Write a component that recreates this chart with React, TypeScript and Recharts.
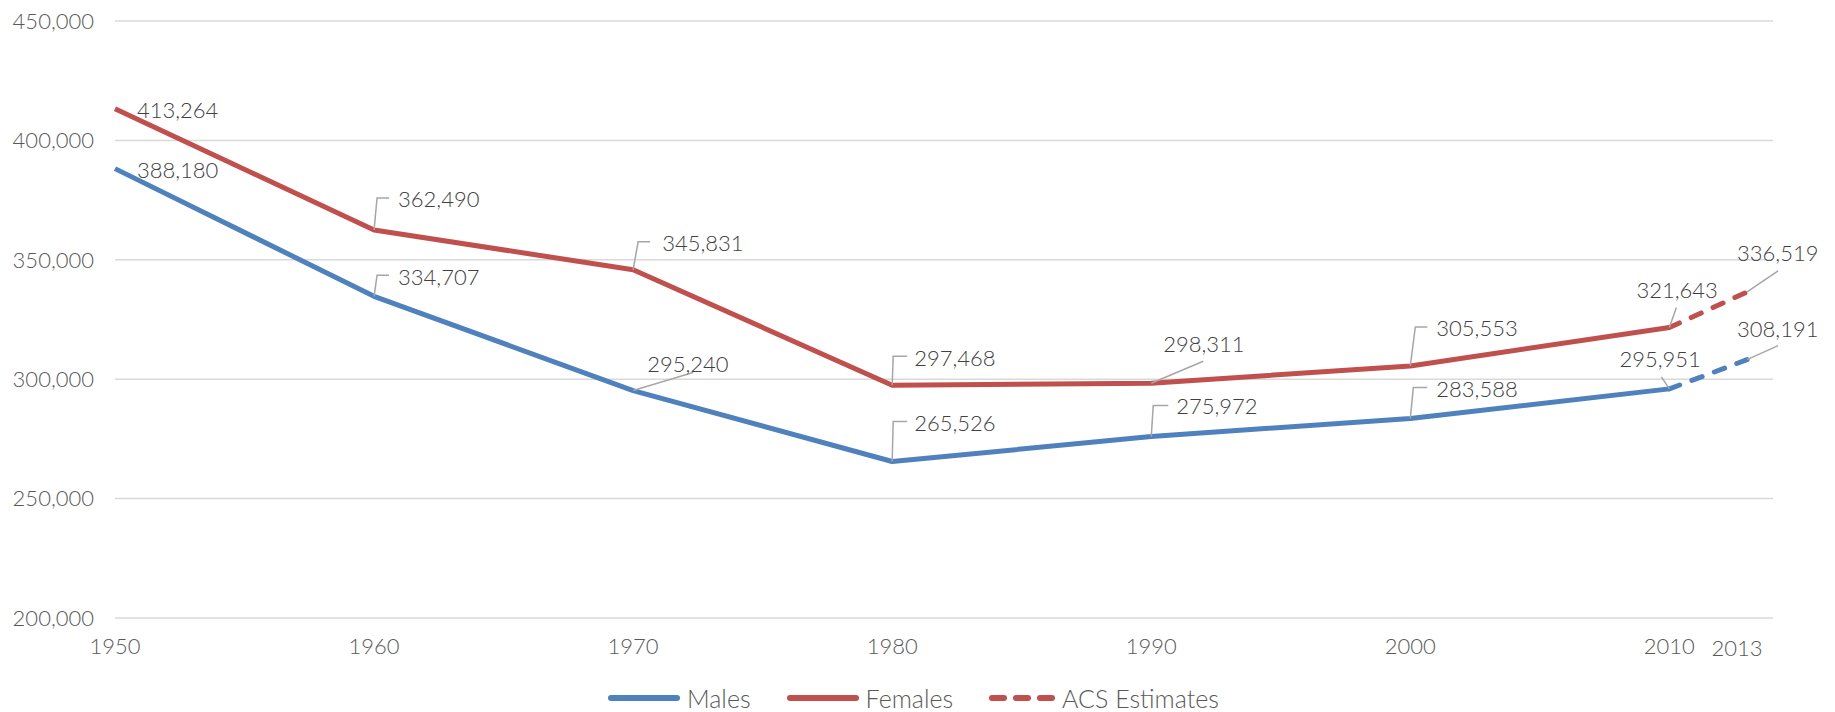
import React from "react";
import { LineChart, Line, XAxis, YAxis, CartesianGrid, Legend, LabelList } from "recharts";

// ---- data ----
const years = [1950, 1960, 1970, 1980, 1990, 2000, 2010, 2013];
const males = [388180, 334707, 295240, 265526, 275972, 283588, 295951, 308191];
const females = [413264, 362490, 345831, 297468, 298311, 305553, 321643, 336519];
const acsYears = [2013]; // estimates from the American Community Survey
const yTicks = [200000, 250000, 300000, 350000, 400000, 450000];
const seriesNames = ["Males", "Females", "ACS Estimates"];

// ---- styling / annotation layout (offsets from the data point, px) ----
type LabelLayout = { dx: number; dy: number; leader?: number[][] };
const femaleLabelLayout: LabelLayout[] = [
  { dx: 22, dy: 1 },
  { dx: 24, dy: -31, leader: [[0, 0], [3, -32], [15, -32]] },
  { dx: 29, dy: -27, leader: [[0, 0], [5, -28], [17, -28]] },
  { dx: 22, dy: -28, leader: [[0, 0], [1, -29], [15, -29]] },
  { dx: 12, dy: -40, leader: [[0, 0], [52, -22]] },
  { dx: 26, dy: -38, leader: [[0, 0], [5, -39], [17, -39]] },
  { dx: -33, dy: -38, leader: [[0, 0], [7, -20]] },
  { dx: -10, dy: -39, leader: [[0, 0], [31, -21]] },
];
const maleLabelLayout: LabelLayout[] = [
  { dx: 22, dy: 1 },
  { dx: 24, dy: -20, leader: [[0, 0], [3, -21], [15, -21]] },
  { dx: 14, dy: -27, leader: [[0, 0], [60, -18]] },
  { dx: 22, dy: -39, leader: [[0, 0], [1, -40], [15, -40]] },
  { dx: 25, dy: -31, leader: [[0, 0], [2, -31], [17, -31]] },
  { dx: 26, dy: -30, leader: [[0, 0], [3, -31], [17, -31]] },
  { dx: -50, dy: -30, leader: [[0, 0], [-8, -12]] },
  { dx: -10, dy: -31, leader: [[0, 0], [31, -14]] },
];

const BLUE = "#4F81BD";
const RED = "#C0504D";
const FONT = "Lato, 'Open Sans', sans-serif";
const FS = 22;
const LEGEND_FS = 25;

const lastCensusIdx = years.findIndex((y) => acsYears.includes(y)) - 1;
const data = years.map((year, i) => {
  const isAcs = acsYears.includes(year);
  return {
    year,
    malesSolid: isAcs ? null : males[i],
    femalesSolid: isAcs ? null : females[i],
    malesAcs: isAcs || i === lastCensusIdx ? males[i] : null,
    femalesAcs: isAcs || i === lastCensusIdx ? females[i] : null,
  };
});

const fmt = (v: number) => v.toLocaleString("en-US");

function makeLabel(layout: LabelLayout[], onlyAcs: boolean) {
  return (props: any) => {
    const { index, value } = props;
    if (value == null || index == null) return null;
    if (onlyAcs && !acsYears.includes(years[index])) return null;
    const x = props.x ?? props.viewBox?.x;
    const y = props.y ?? props.viewBox?.y;
    const l = layout[index];
    if (!l || x == null || y == null) return null;
    return (
      <g>
        {l.leader && (
          <polyline
            points={l.leader.map(([a, b]) => `${x + a},${y + b}`).join(" ")}
            fill="none"
            stroke="#A6A6A6"
            strokeWidth={1.5}
          />
        )}
        <text
          x={x + l.dx}
          y={y + l.dy}
          dominantBaseline="central"
          fontFamily={FONT}
          fontWeight={300}
          fontSize={FS}
          fill="#404040"
        >
          {fmt(value)}
        </text>
      </g>
    );
  };
}

const XTick = (props: any) => {
  const { x, y, payload } = props;
  const shift = acsYears.includes(payload.value) ? -10 : 0;
  const dy = acsYears.includes(payload.value) ? 2 : 0;
  return (
    <text
      x={x + shift}
      y={y + dy}
      dy="0.71em"
      textAnchor="middle"
      fontFamily={FONT}
      fontWeight={300}
      fontSize={FS}
      fill="#595959"
    >
      {payload.value}
    </text>
  );
};

const LegendIcon = ({ color, dashed }: { color: string; dashed?: boolean }) => {
  const w = dashed ? 66 : 72;
  return (
    <svg width={w} height={10} style={{ display: "block" }}>
      <line
        x1={3}
        x2={w - 3}
        y1={5}
        y2={5}
        stroke={color}
        strokeWidth={6}
        strokeLinecap="round"
        strokeDasharray={dashed ? "12 12" : undefined}
      />
    </svg>
  );
};

const LegendContent = () => {
  const items = [
    { name: seriesNames[0], color: BLUE, dashed: false },
    { name: seriesNames[1], color: RED, dashed: false },
    { name: seriesNames[2], color: RED, dashed: true },
  ];
  return (
    <div style={{ position: "relative", height: 28, width: 1835 }}>
      <div
        style={{
          position: "absolute",
          left: 608,
          top: 0,
          height: 28,
          display: "flex",
          alignItems: "center",
          fontFamily: FONT,
          fontWeight: 300,
          fontSize: LEGEND_FS,
          color: "#595959",
          whiteSpace: "nowrap",
        }}
      >
        {items.map((it, i) => (
          <div key={it.name} style={{ display: "flex", alignItems: "center", marginLeft: i === 0 ? 0 : 36 }}>
            <LegendIcon color={it.color} dashed={it.dashed} />
            <span style={{ marginLeft: 7, lineHeight: "28px" }}>{it.name}</span>
          </div>
        ))}
      </div>
    </div>
  );
};

export default function App() {
  return (
    <div style={{ position: "absolute", left: 0, top: 0, width: 1835, height: 712, background: "#fff" }}>
      <LineChart
        width={1835}
        height={712}
        data={data}
        margin={{ top: 21, right: 62, left: 0, bottom: 0 }}
      >
        <CartesianGrid vertical={false} stroke="#D9D9D9" strokeWidth={1.5} />
        <XAxis
          dataKey="year"
          type="number"
          domain={[1950, 2014]}
          ticks={years}
          interval={0}
          axisLine={false}
          tickLine={false}
          tickSize={0}
          tickMargin={20}
          height={66}
          tick={<XTick />}
        />
        <YAxis
          domain={[200000, 450000]}
          ticks={yTicks}
          interval={0}
          axisLine={false}
          tickLine={false}
          tickSize={0}
          tickMargin={21}
          width={115}
          tickFormatter={fmt}
          tick={{ fontFamily: FONT, fontWeight: 300, fontSize: FS, fill: "#595959" }}
        />
        <Legend verticalAlign="bottom" height={28} content={<LegendContent />} />
        <Line
          dataKey="malesSolid"
          name={seriesNames[0]}
          stroke={BLUE}
          strokeWidth={5}
          dot={false}
          strokeLinejoin="round"
          isAnimationActive={false}
        >
          <LabelList dataKey="malesSolid" content={makeLabel(maleLabelLayout, false)} />
        </Line>
        <Line
          dataKey="femalesSolid"
          name={seriesNames[1]}
          stroke={RED}
          strokeWidth={5}
          dot={false}
          strokeLinejoin="round"
          isAnimationActive={false}
        >
          <LabelList dataKey="femalesSolid" content={makeLabel(femaleLabelLayout, false)} />
        </Line>
        <Line
          dataKey="malesAcs"
          name="Males ACS"
          stroke={BLUE}
          strokeWidth={5}
          strokeDasharray="11 13"
          strokeLinecap="round"
          dot={false}
          isAnimationActive={false}
          legendType="none"
        >
          <LabelList dataKey="malesAcs" content={makeLabel(maleLabelLayout, true)} />
        </Line>
        <Line
          dataKey="femalesAcs"
          name={seriesNames[2]}
          stroke={RED}
          strokeWidth={5}
          strokeDasharray="11 13"
          strokeLinecap="round"
          dot={false}
          isAnimationActive={false}
        >
          <LabelList dataKey="femalesAcs" content={makeLabel(femaleLabelLayout, true)} />
        </Line>
      </LineChart>
    </div>
  );
}
